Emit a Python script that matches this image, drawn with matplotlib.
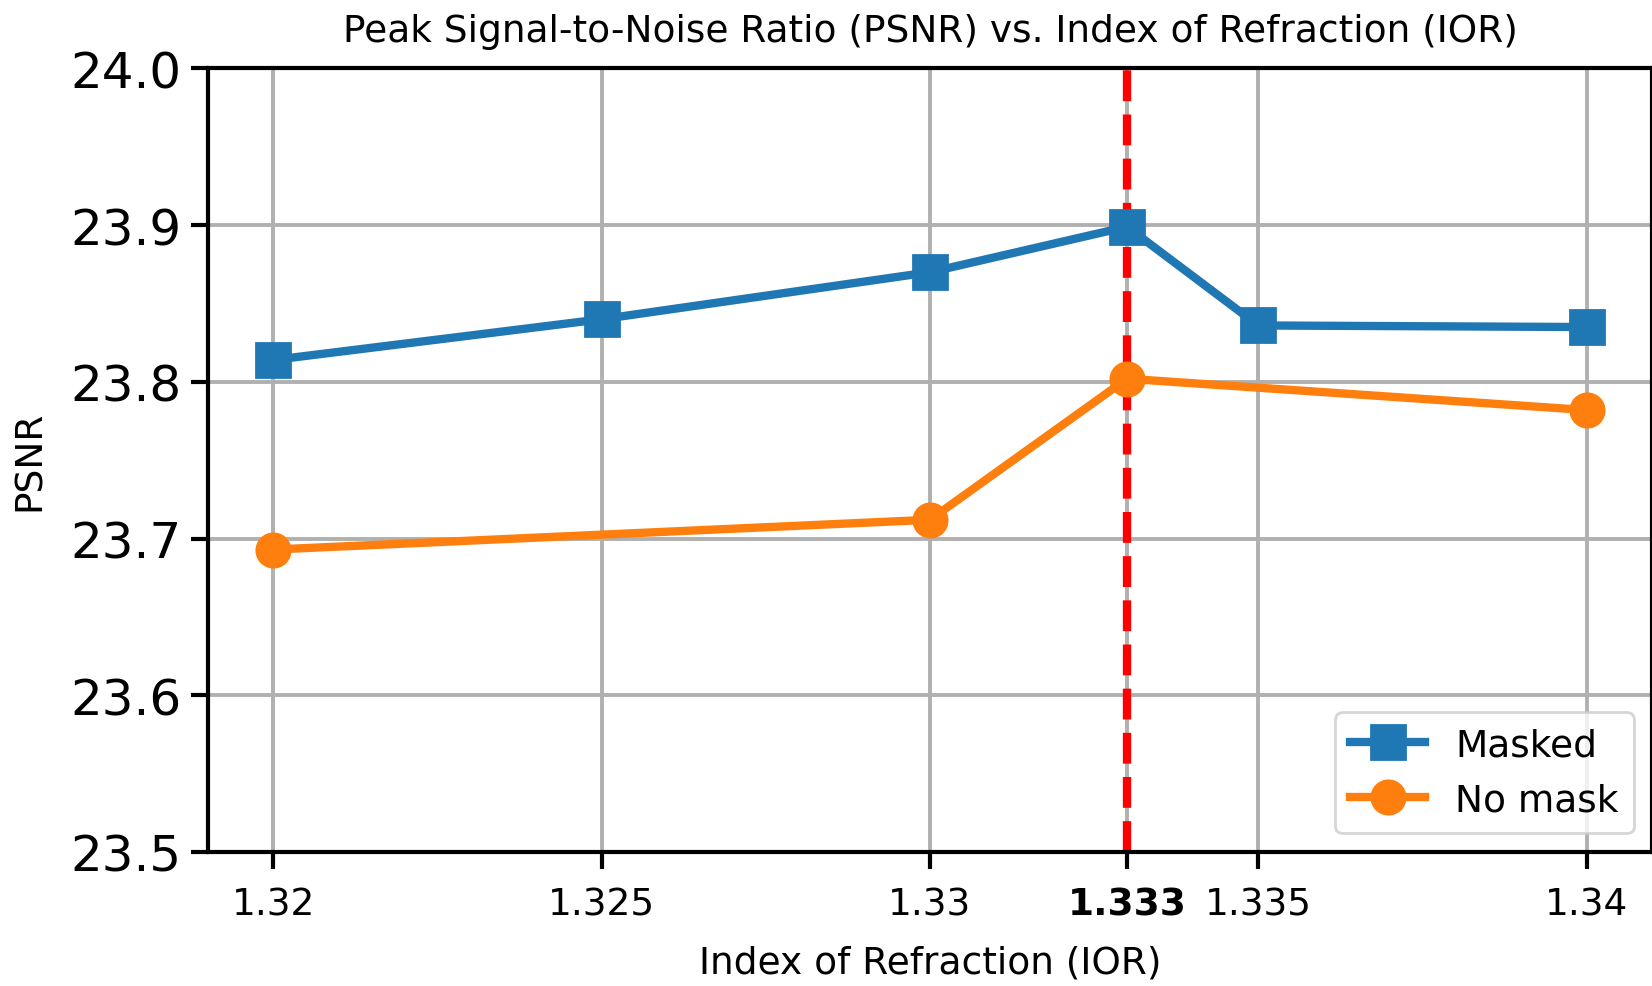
import numpy as np
import matplotlib
matplotlib.use("Agg")
import matplotlib.pyplot as plt

ior_masked = [1.32, 1.325, 1.33, 1.333, 1.335, 1.34]
psnr_masked = [23.814, 23.840, 23.870, 23.899, 23.836, 23.835]

ior_nomask = [1.32, 1.33, 1.333, 1.34]
psnr_nomask = [23.693, 23.712, 23.802, 23.782]

xticks = [1.32, 1.325, 1.33, 1.333, 1.335, 1.34]
xticklabels = ["1.32", "1.325", "1.33", "1.333", "1.335", "1.34"]
yticks = [23.5, 23.6, 23.7, 23.8, 23.9, 24.0]
ior_water = 1.333

fig = plt.figure(figsize=(8.26, 4.935), dpi=200)
ax = fig.add_axes([0.1257, 0.1358, 0.8745, 0.7938])

ax.plot(ior_masked, psnr_masked, marker='s', lw=3, ms=12, label='Masked', zorder=3)
ax.plot(ior_nomask, psnr_nomask, marker='o', lw=3, ms=12, label='No mask', zorder=3)
ax.axvline(ior_water, color='red', ls='--', lw=3, zorder=2)

ax.set_xlim(1.319, 1.341)
ax.set_ylim(23.5, 24.0)
ax.set_xticks(xticks)
ax.set_xticklabels(xticklabels, fontsize=13.5)
ax.get_xticklabels()[3].set_fontweight('bold')
ax.set_yticks(yticks)
ax.set_yticklabels(["%.1f" % v for v in yticks], fontsize=18)
ax.tick_params(length=6, width=1.5)
ax.tick_params(axis='x', pad=6.5)
ax.grid(True, color='#b0b0b0', lw=1.4)
for s in ax.spines.values():
    s.set_linewidth(1.5)

ax.set_xlabel("Index of Refraction (IOR)", fontsize=13.5, labelpad=8)
ax.set_ylabel("PSNR", fontsize=13.5, labelpad=8)
ax.set_title("Peak Signal-to-Noise Ratio (PSNR) vs. Index of Refraction (IOR)", fontsize=13.5, pad=10)
ax.legend(loc='lower right', fontsize=13.5)

fig.savefig("out.png", dpi=200)
